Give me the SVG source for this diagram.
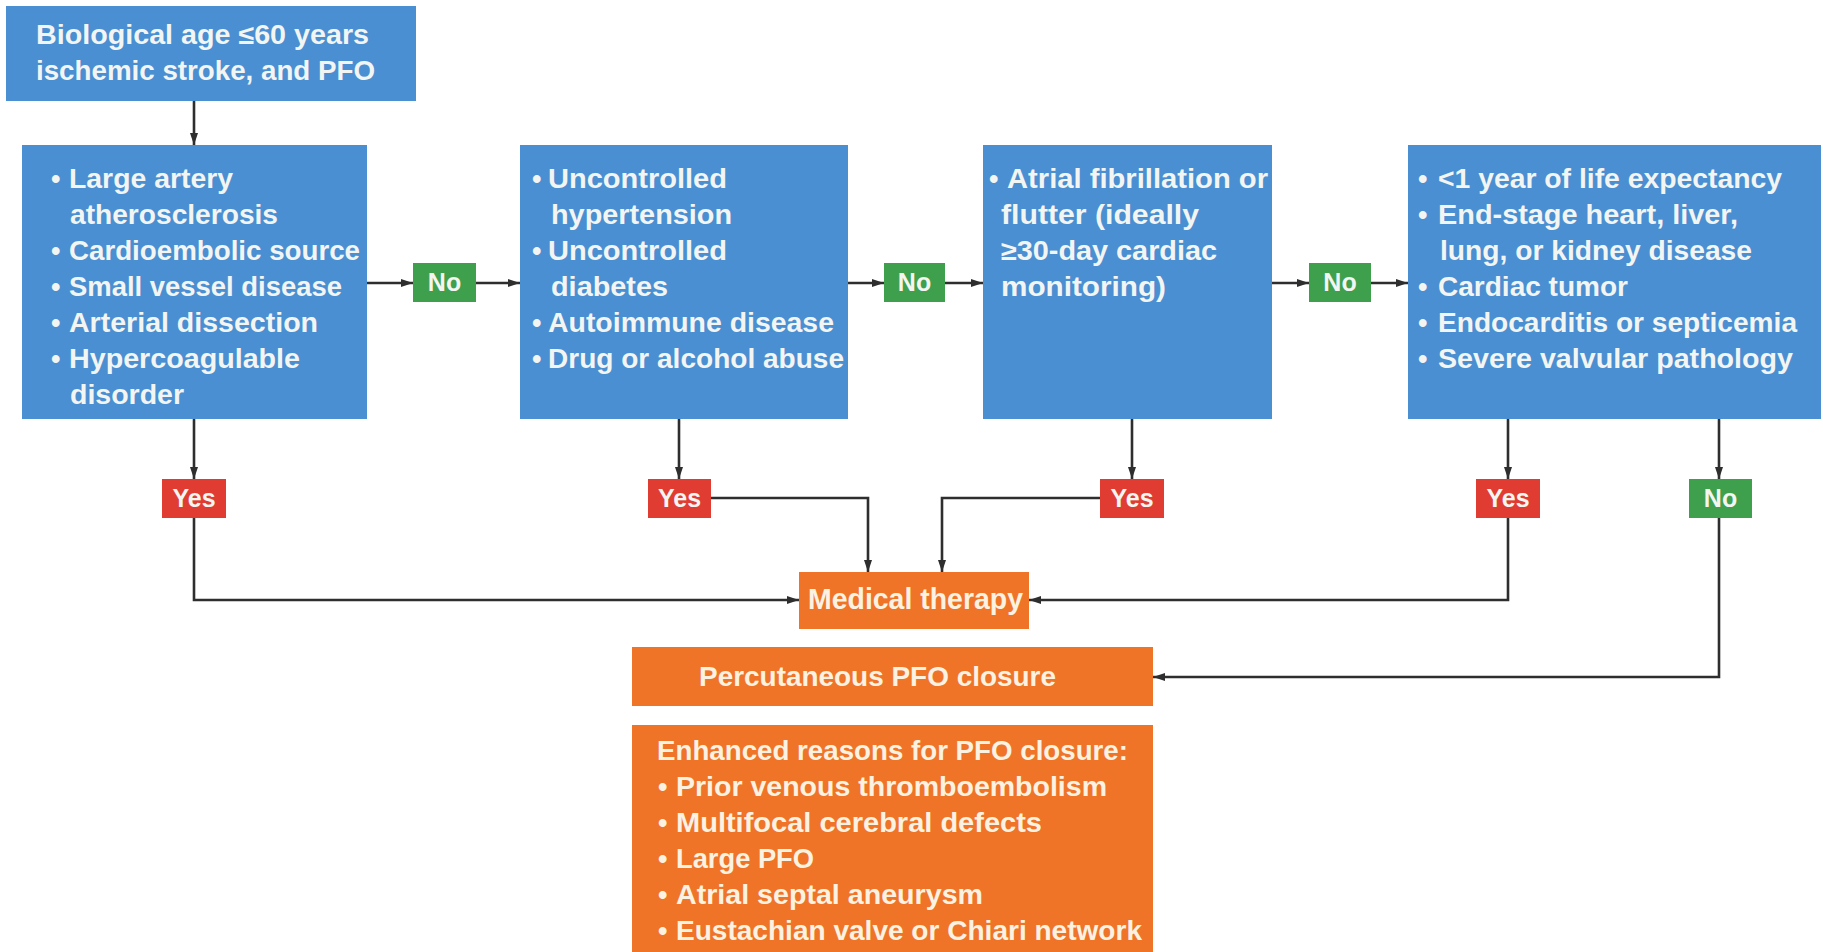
<svg xmlns="http://www.w3.org/2000/svg" width="1823" height="952" viewBox="0 0 1823 952">
<style>
.blue{fill:#4A8FD2}
.orange{fill:#EF7428}
.green{fill:#3E9F4C}
.red{fill:#E03C31}
text{font-family:"Liberation Sans",Arial,sans-serif;font-weight:bold;font-size:27px;fill:#F3F5F2}
.o text{fill:#FCF2E2}
.lbl{font-size:25px;text-anchor:middle}
.conn{fill:none;stroke:#2E2E2E;stroke-width:2.6}
</style>
<defs>
<marker id="ah" markerUnits="userSpaceOnUse" markerWidth="12" markerHeight="8" refX="12" refY="4" orient="auto">
<path d="M0,0 L12,4 L0,8 z" fill="#2E2E2E"/>
</marker>
</defs>
<rect width="1823" height="952" fill="#FFFFFF"/>

<g id="connectors">
<path class="conn" d="M194,101 V145" marker-end="url(#ah)"/>
<path class="conn" d="M367,283 H413" marker-end="url(#ah)"/>
<path class="conn" d="M476,283 H520" marker-end="url(#ah)"/>
<path class="conn" d="M848,283 H884" marker-end="url(#ah)"/>
<path class="conn" d="M945,283 H983" marker-end="url(#ah)"/>
<path class="conn" d="M1272,283 H1309" marker-end="url(#ah)"/>
<path class="conn" d="M1371,283 H1408" marker-end="url(#ah)"/>
<path class="conn" d="M194,419 V479" marker-end="url(#ah)"/>
<path class="conn" d="M194,518 V600 H799" marker-end="url(#ah)"/>
<path class="conn" d="M679,419 V479" marker-end="url(#ah)"/>
<path class="conn" d="M711,498 H868 V572" marker-end="url(#ah)"/>
<path class="conn" d="M1132,419 V479" marker-end="url(#ah)"/>
<path class="conn" d="M1100,498 H942 V572" marker-end="url(#ah)"/>
<path class="conn" d="M1508,419 V479" marker-end="url(#ah)"/>
<path class="conn" d="M1508,518 V600 H1029" marker-end="url(#ah)"/>
<path class="conn" d="M1719,419 V479" marker-end="url(#ah)"/>
<path class="conn" d="M1719,518 V677 H1153" marker-end="url(#ah)"/>
</g>

<g id="start">
<rect class="blue" x="6" y="6" width="410" height="95"/>
<text x="36" y="44" textLength="333" lengthAdjust="spacingAndGlyphs">Biological age ≤60 years</text>
<text x="36" y="80" textLength="339" lengthAdjust="spacingAndGlyphs">ischemic stroke, and PFO</text>
</g>

<g id="box1">
<rect class="blue" x="22" y="145" width="345" height="274"/>
<text x="51" y="188">•</text>
<text x="69" y="188" textLength="164" lengthAdjust="spacingAndGlyphs">Large artery</text>
<text x="70" y="224" textLength="208" lengthAdjust="spacingAndGlyphs">atherosclerosis</text>
<text x="51" y="260">•</text>
<text x="69" y="260" textLength="291" lengthAdjust="spacingAndGlyphs">Cardioembolic source</text>
<text x="51" y="296">•</text>
<text x="69" y="296" textLength="273" lengthAdjust="spacingAndGlyphs">Small vessel disease</text>
<text x="51" y="332">•</text>
<text x="69" y="332" textLength="249" lengthAdjust="spacingAndGlyphs">Arterial dissection</text>
<text x="51" y="368">•</text>
<text x="69" y="368" textLength="231" lengthAdjust="spacingAndGlyphs">Hypercoagulable</text>
<text x="70" y="404" textLength="114" lengthAdjust="spacingAndGlyphs">disorder</text>
</g>

<g id="box2">
<rect class="blue" x="520" y="145" width="328" height="274"/>
<text x="532" y="188">•</text>
<text x="548" y="188" textLength="179" lengthAdjust="spacingAndGlyphs">Uncontrolled</text>
<text x="551" y="224" textLength="181" lengthAdjust="spacingAndGlyphs">hypertension</text>
<text x="532" y="260">•</text>
<text x="548" y="260" textLength="179" lengthAdjust="spacingAndGlyphs">Uncontrolled</text>
<text x="551" y="296" textLength="117" lengthAdjust="spacingAndGlyphs">diabetes</text>
<text x="532" y="332">•</text>
<text x="548" y="332" textLength="286" lengthAdjust="spacingAndGlyphs">Autoimmune disease</text>
<text x="532" y="368">•</text>
<text x="548" y="368" textLength="296" lengthAdjust="spacingAndGlyphs">Drug or alcohol abuse</text>
</g>

<g id="box3">
<rect class="blue" x="983" y="145" width="289" height="274"/>
<text x="989" y="188">•</text>
<text x="1007" y="188" textLength="261" lengthAdjust="spacingAndGlyphs">Atrial fibrillation or</text>
<text x="1001" y="224" textLength="198" lengthAdjust="spacingAndGlyphs">flutter (ideally</text>
<text x="1001" y="260" textLength="216" lengthAdjust="spacingAndGlyphs">≥30-day cardiac</text>
<text x="1001" y="296" textLength="165" lengthAdjust="spacingAndGlyphs">monitoring)</text>
</g>

<g id="box4">
<rect class="blue" x="1408" y="145" width="413" height="274"/>
<text x="1418" y="188">•</text>
<text x="1438" y="188" textLength="344" lengthAdjust="spacingAndGlyphs">&lt;1 year of life expectancy</text>
<text x="1418" y="224">•</text>
<text x="1438" y="224" textLength="300" lengthAdjust="spacingAndGlyphs">End-stage heart, liver,</text>
<text x="1440" y="260" textLength="312" lengthAdjust="spacingAndGlyphs">lung, or kidney disease</text>
<text x="1418" y="296">•</text>
<text x="1438" y="296" textLength="190" lengthAdjust="spacingAndGlyphs">Cardiac tumor</text>
<text x="1418" y="332">•</text>
<text x="1438" y="332" textLength="359" lengthAdjust="spacingAndGlyphs">Endocarditis or septicemia</text>
<text x="1418" y="368">•</text>
<text x="1438" y="368" textLength="355" lengthAdjust="spacingAndGlyphs">Severe valvular pathology</text>
</g>

<g id="no1"><rect class="green" x="413" y="263" width="63" height="39"/><text class="lbl" x="444.5" y="291">No</text></g>
<g id="no2"><rect class="green" x="884" y="263" width="61" height="39"/><text class="lbl" x="914.5" y="291">No</text></g>
<g id="no3"><rect class="green" x="1309" y="263" width="62" height="39"/><text class="lbl" x="1340" y="291">No</text></g>

<g id="yes1"><rect class="red" x="162" y="479" width="64" height="39"/><text class="lbl" x="194" y="507">Yes</text></g>
<g id="yes2"><rect class="red" x="648" y="479" width="63" height="39"/><text class="lbl" x="679.5" y="507">Yes</text></g>
<g id="yes3"><rect class="red" x="1100" y="479" width="64" height="39"/><text class="lbl" x="1132" y="507">Yes</text></g>
<g id="yes4"><rect class="red" x="1476" y="479" width="64" height="39"/><text class="lbl" x="1508" y="507">Yes</text></g>
<g id="no4"><rect class="green" x="1689" y="479" width="63" height="39"/><text class="lbl" x="1720.5" y="507">No</text></g>

<g id="medical" class="o">
<rect class="orange" x="799" y="572" width="230" height="57"/>
<text x="808" y="609" style="font-size:29px" textLength="215" lengthAdjust="spacingAndGlyphs">Medical therapy</text>
</g>

<g id="closure" class="o">
<rect class="orange" x="632" y="647" width="521" height="59"/>
<text x="699" y="686" style="font-size:28px" textLength="357" lengthAdjust="spacingAndGlyphs">Percutaneous PFO closure</text>
</g>

<g id="enhanced" class="o">
<rect class="orange" x="632" y="725" width="521" height="227"/>
<text x="657" y="760" textLength="471" lengthAdjust="spacingAndGlyphs">Enhanced reasons for PFO closure:</text>
<text x="658" y="796">•</text>
<text x="676" y="796" textLength="431" lengthAdjust="spacingAndGlyphs">Prior venous thromboembolism</text>
<text x="658" y="832">•</text>
<text x="676" y="832" textLength="366" lengthAdjust="spacingAndGlyphs">Multifocal cerebral defects</text>
<text x="658" y="868">•</text>
<text x="676" y="868" textLength="138" lengthAdjust="spacingAndGlyphs">Large PFO</text>
<text x="658" y="904">•</text>
<text x="676" y="904" textLength="307" lengthAdjust="spacingAndGlyphs">Atrial septal aneurysm</text>
<text x="658" y="940">•</text>
<text x="676" y="940" textLength="466" lengthAdjust="spacingAndGlyphs">Eustachian valve or Chiari network</text>
</g>
</svg>
